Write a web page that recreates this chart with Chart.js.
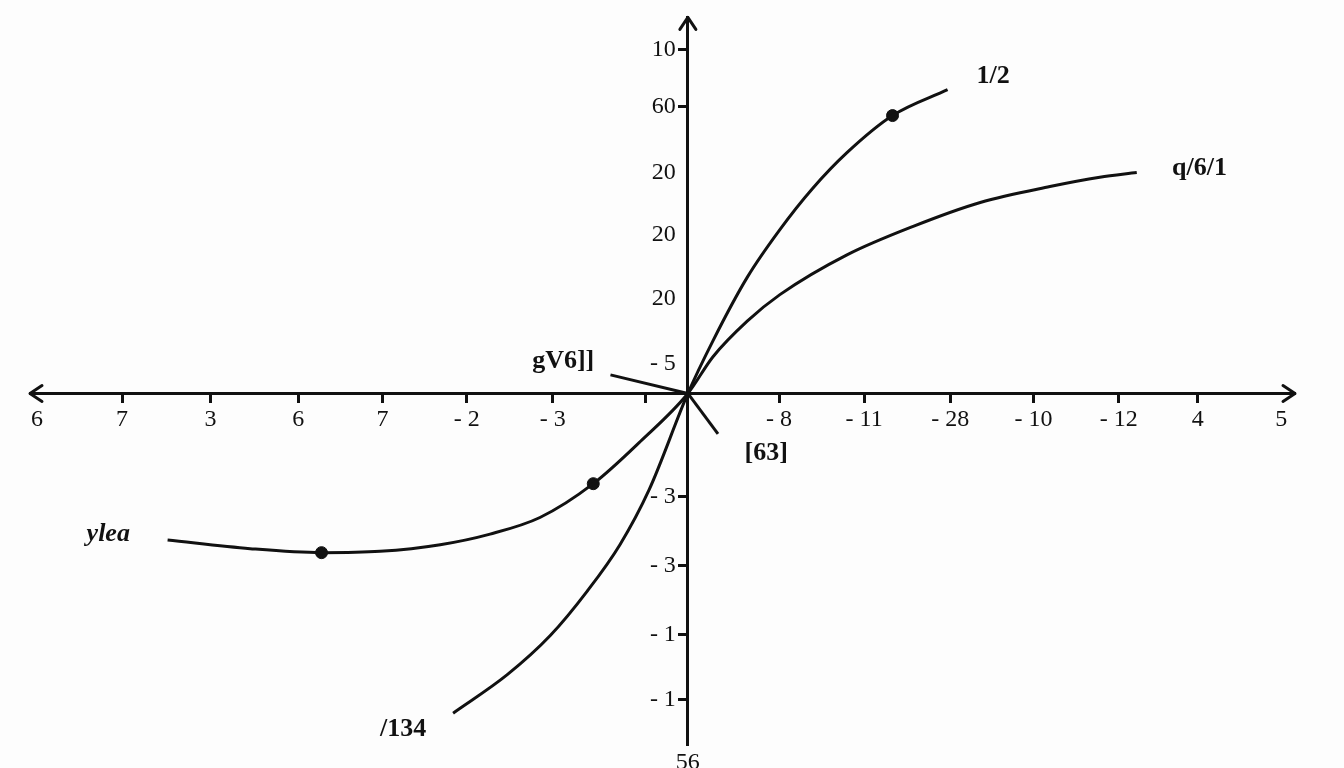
<!DOCTYPE html>
<html>
<head>
<meta charset="utf-8">
<script src="https://cdn.jsdelivr.net/npm/chart.js@4/dist/chart.umd.min.js"></script>
<style>
  html, body { margin: 0; padding: 0; background: #fdfdfd; }
  #wrap { width: 1344px; height: 768px; }
</style>
</head>
<body>
<div id="wrap"><canvas id="chart" width="1344" height="768"></canvas></div>
<script>
// tick positions (axis units) and their printed labels
const xTickValues = [-7.57, -6.58, -5.55, -4.53, -3.55, -2.57, -1.57, -0.49, 1.06, 2.05, 3.05, 4.02, 5.01, 5.93, 6.9];
const xTickLabels = ['6', '7', '3', '6', '7', '- 2', '- 3', '', '- 8', '- 11', '- 28', '- 10', '- 12', '4', '5'];
const yTickValues = [5.18, 4.33, 3.33, 2.39, 1.43, 0.45, -1.55, -2.6, -3.64, -4.61];
const yTickLabels = ['10', '60', '20', '20', '20', '- 5', '- 3', '- 3', '- 1', '- 1'];

// steep curve, "/134" -> "1/2"
const steepX = [-2.73, -2.10, -1.60, -1.17, -0.79, -0.45, 0, 0.29, 0.69, 1.07, 1.45, 1.85, 2.38, 3.02];
const steepY = [-4.82, -4.24, -3.65, -2.98, -2.28, -1.45, 0, 0.79, 1.75, 2.47, 3.09, 3.63, 4.19, 4.58];

// flatter curve, "ylea" -> "q/6/1"
const flatX = [-6.05, -5.09, -4.26, -3.58, -2.88, -2.30, -1.72, -1.10, -0.55, 0, 0.29, 0.69, 1.07, 1.85, 2.62, 3.40, 4.21, 4.79, 5.22];
const flatY = [-2.21, -2.34, -2.40, -2.38, -2.28, -2.12, -1.87, -1.36, -0.72, 0, 0.55, 1.09, 1.49, 2.09, 2.52, 2.88, 3.12, 3.26, 3.33];

// short leader strokes through the origin
const leadAX = [-0.9, 0];
const leadAY = [0.28, 0];
const leadBX = [0, 0.35];
const leadBY = [0, -0.61];

// dots on the curves
const dotX = [2.38, -1.10, -4.26];
const dotY = [4.19, -1.36, -2.40];

// curve captions
const captionText = ['1/2', 'q/6/1', 'ylea', '/134', 'gV6]]', '[63]'];
const captionX = [3.55, 5.95, -6.74, -3.31, -1.45, 0.91];
const captionY = [4.78, 3.40, -2.12, -5.07, 0.48, -0.90];

const bottomLabel = '56';

const ink = '#111';
const toPts = (xs, ys) => xs.map((x, i) => ({ x: x, y: ys[i] }));

const lineSet = (xs, ys) => ({
  data: toPts(xs, ys),
  showLine: true,
  borderColor: ink,
  borderWidth: 3,
  pointRadius: 0,
  cubicInterpolationMode: 'monotone',
  fill: false
});

const extras = {
  id: 'extras',
  afterDraw(chart) {
    const { ctx, chartArea: a, scales: { x, y } } = chart;
    const ox = x.getPixelForValue(0), oy = y.getPixelForValue(0);
    ctx.save();
    ctx.strokeStyle = ink;
    ctx.lineWidth = 3;
    ctx.lineCap = 'round';
    ctx.lineJoin = 'round';
    const head = (tx, ty, dx, dy) => {
      ctx.beginPath();
      ctx.moveTo(tx + dx * 12 - dy * 8, ty + dy * 12 - dx * 8);
      ctx.lineTo(tx, ty);
      ctx.lineTo(tx + dx * 12 + dy * 8, ty + dy * 12 + dx * 8);
      ctx.stroke();
    };
    head(a.left, oy, 1, 0);
    head(a.right, oy, -1, 0);
    head(ox, a.top, 0, 1);

    ctx.fillStyle = ink;
    ctx.textAlign = 'center';
    ctx.textBaseline = 'middle';
    captionText.forEach((t, i) => {
      ctx.font = (t === 'ylea' ? 'italic ' : '') + 'bold 26px "Liberation Serif"';
      ctx.fillText(t, x.getPixelForValue(captionX[i]), y.getPixelForValue(captionY[i]));
    });
    ctx.font = '24px "Liberation Serif"';
    ctx.textBaseline = 'top';
    ctx.fillText(bottomLabel, ox, a.bottom + 6);
    ctx.restore();
  }
};

new Chart(document.getElementById('chart'), {
  type: 'scatter',
  data: {
    datasets: [
      lineSet(steepX, steepY),
      lineSet(flatX, flatY),
      Object.assign(lineSet(leadAX, leadAY), { cubicInterpolationMode: 'default', tension: 0 }),
      Object.assign(lineSet(leadBX, leadBY), { cubicInterpolationMode: 'default', tension: 0 }),
      {
        data: toPts(dotX, dotY),
        pointRadius: 6,
        pointBackgroundColor: ink,
        pointBorderColor: ink,
        showLine: false
      }
    ]
  },
  options: {
    responsive: false,
    animation: false,
    layout: { padding: { left: 30, right: 49, top: 10, bottom: 23 } },
    plugins: { legend: { display: false }, tooltip: { enabled: false } },
    scales: {
      x: {
        type: 'linear',
        min: -7.65,
        max: 7.06,
        position: { y: 0 },
        afterBuildTicks: s => { s.ticks = xTickValues.map(v => ({ value: v })); },
        border: { display: true, color: ink, width: 3 },
        grid: {
          drawOnChartArea: false, drawTicks: true, tickLength: 8, tickWidth: 3,
          tickColor: c => (c.index === 0 || c.index === 14) ? 'rgba(0,0,0,0)' : ink
        },
        ticks: {
          autoSkip: false,
          maxRotation: 0,
          padding: 4,
          color: ink,
          font: { family: '"Liberation Serif"', size: 24 },
          callback: (v, i) => xTickLabels[i]
        }
      },
      y: {
        type: 'linear',
        min: -5.3,
        max: 5.67,
        position: { x: 0 },
        afterBuildTicks: s => { s.ticks = yTickValues.map(v => ({ value: v })); },
        border: { display: true, color: ink, width: 3 },
        grid: {
          drawOnChartArea: false, drawTicks: true, tickLength: 8, tickWidth: 3,
          tickColor: c => (c.index >= 2 && c.index <= 5) ? 'rgba(0,0,0,0)' : ink
        },
        ticks: {
          autoSkip: false,
          color: ink,
          font: { family: '"Liberation Serif"', size: 24 },
          // centre-positioned y labels sit on the axis line, so pad them off it
          callback: (v, i) => yTickLabels[i] + '\u2002'
        }
      }
    }
  },
  plugins: [extras]
});
</script>
</body>
</html>
